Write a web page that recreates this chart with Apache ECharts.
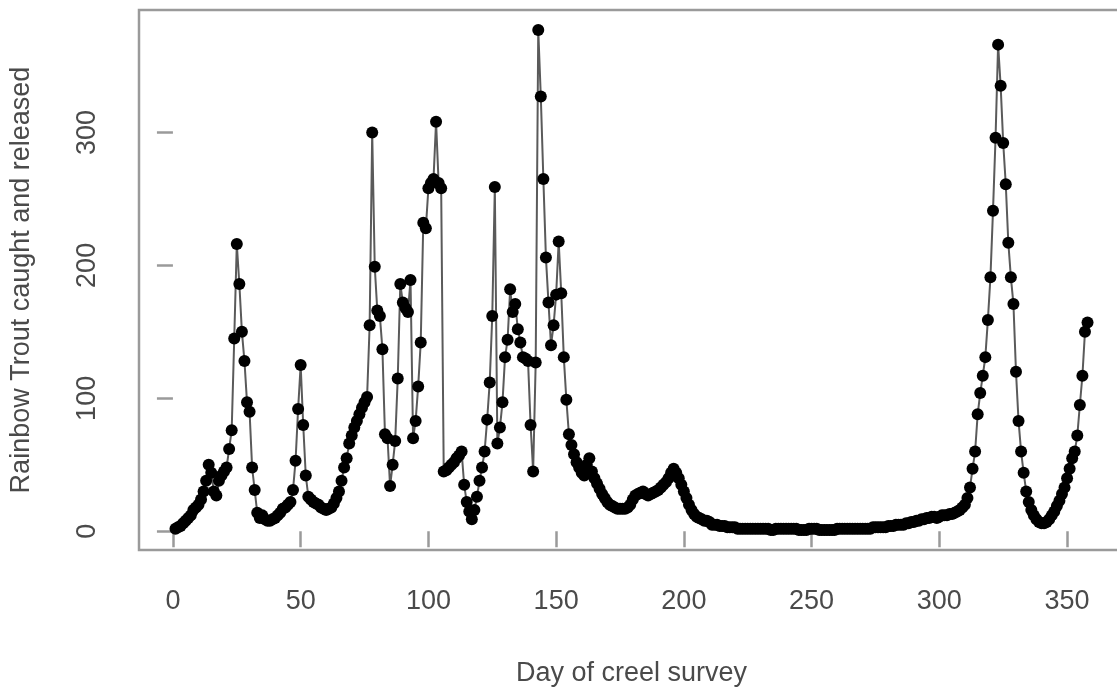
<!DOCTYPE html>
<html>
<head>
<meta charset="utf-8">
<title>Rainbow Trout caught and released</title>
<script src="https://cdn.jsdelivr.net/npm/echarts@6/dist/echarts.min.js"></script>
<style>
  html, body { margin: 0; padding: 0; background: #ffffff; }
  #chart { width: 1117px; height: 687px; }
</style>
</head>
<body>
<div id="chart"></div>
<script>
// Daily catch-and-release counts, day 1 onward (one value per survey day)
const caughtJanFeb = [
  2, 3, 4, 6, 8, 10, 12, 16, 18, 20,
  24, 30, 38, 50, 44, 30, 27, 38, 42, 45,
  48, 62, 76, 145, 216, 186, 150, 128, 97, 90,
  48, 31, 14, 10, 12, 9, 8, 8, 9, 10,
  12, 14, 17, 18, 20, 22, 31, 53, 92, 125,
  80, 42, 26, 24, 22, 21, 20, 18, 17, 16
];
const caughtMarApr = [
  17, 18, 21, 25, 30, 38, 48, 55, 66, 72,
  78, 83, 88, 93, 97, 101, 155, 300, 199, 166,
  162, 137, 73, 70, 34, 50, 68, 115, 186, 172,
  168, 165, 189, 70, 83, 109, 142, 232, 228, 258,
  262, 265, 308, 262, 258, 45, 46, 48, 50, 52,
  55, 57, 60, 35, 22, 15, 9, 16, 26, 38
];
const caughtMayJun = [
  48, 60, 84, 112, 162, 259, 66, 78, 97, 131,
  144, 182, 165, 171, 152, 142, 131, 130, 128, 80,
  45, 127, 377, 327, 265, 206, 172, 140, 155, 178,
  218, 179, 131, 99, 73, 65, 58, 52, 48, 44,
  42, 50, 55, 45, 40, 36, 32, 28, 25, 22,
  20, 19, 18, 17, 17, 17, 17, 18, 20, 24
];
const caughtJulAug = [
  27, 28, 29, 30, 28, 27, 28, 29, 30, 31,
  33, 35, 37, 40, 44, 47, 44, 40, 35, 30,
  25, 20, 16, 13, 11, 10, 9, 8, 8, 7,
  5, 5, 5, 4, 4, 4, 3, 3, 3, 3,
  2, 2, 2, 2, 2, 2, 2, 2, 2, 2,
  2, 2, 2, 1, 1, 2, 2, 2, 2, 2
];
const caughtSepOct = [
  2, 2, 2, 2, 1, 1, 1, 1, 2, 2,
  2, 2, 1, 1, 1, 1, 1, 1, 1, 2,
  2, 2, 2, 2, 2, 2, 2, 2, 2, 2,
  2, 2, 2, 3, 3, 3, 3, 3, 3, 4,
  4, 4, 5, 5, 5, 5, 6, 6, 7, 7,
  8, 8, 9, 9, 10, 10, 11, 11, 10, 11
];
const caughtNovDec = [
  12, 12, 12, 13, 13, 14, 15, 16, 18, 20,
  25, 33, 47, 60, 88, 104, 117, 131, 159, 191,
  241, 296, 366, 335, 292, 261, 217, 191, 171, 120,
  83, 60, 44, 30, 22, 16, 12, 9, 7, 6,
  6, 7, 9, 12, 15, 19, 23, 28, 33, 40,
  47, 55, 60, 72, 95, 117, 150, 157
];

const xTicks = [0, 50, 100, 150, 200, 250, 300, 350];
const yTicks = [0, 100, 200, 300];

const caught = [].concat(caughtJanFeb, caughtMarApr, caughtMayJun,
                         caughtJulAug, caughtSepOct, caughtNovDec);
const points = caught.map((v, i) => [i + 1, v]);

// R-style axis padding: 4% beyond the data range on each side
const nDays = caught.length;
const xPad = 0.04 * (nDays - 1);
const yMinData = Math.min.apply(null, caught);
const yMaxData = Math.max.apply(null, caught);
const yPad = 0.04 * (yMaxData - yMinData);

const textColor = '#4a4a4a';
const frameColor = '#9a9a9a';
const fontFamily = '"Liberation Sans", Arial, sans-serif';

const chart = echarts.init(document.getElementById('chart'), null, { renderer: 'canvas' });
chart.setOption({
  animation: false,
  backgroundColor: '#ffffff',
  grid: {
    left: 139,
    top: 10,
    width: 985,
    height: 540,
    show: true,
    borderColor: frameColor,
    borderWidth: 2.5,
    backgroundColor: 'transparent',
    outerBoundsMode: 'none',
    containLabel: false
  },
  xAxis: {
    type: 'value',
    min: 1 - xPad,
    max: nDays + xPad,
    name: 'Day of creel survey',
    nameLocation: 'middle',
    nameGap: 110,
    nameTextStyle: { color: textColor, fontSize: 27, fontFamily: fontFamily },
    axisLine: { show: false },
    splitLine: { show: false },
    axisTick: {
      show: true,
      customValues: xTicks,
      length: 16,
      lineStyle: { color: frameColor, width: 2.5 }
    },
    axisLabel: {
      customValues: xTicks,
      margin: 38,
      color: textColor,
      fontSize: 27,
      fontFamily: fontFamily
    }
  },
  yAxis: {
    type: 'value',
    min: yMinData - yPad,
    max: yMaxData + yPad,
    name: 'Rainbow Trout caught and released',
    nameLocation: 'middle',
    nameGap: 104,
    nameTextStyle: { color: textColor, fontSize: 27, fontFamily: fontFamily },
    axisLine: { show: false },
    splitLine: { show: false },
    axisTick: {
      show: true,
      customValues: yTicks,
      length: 16,
      lineStyle: { color: frameColor, width: 2.5 }
    },
    axisLabel: {
      customValues: yTicks,
      rotate: 90,
      margin: 38,
      color: textColor,
      fontSize: 27,
      fontFamily: fontFamily
    }
  },
  series: [{
    type: 'line',
    data: points,
    symbol: 'circle',
    symbolSize: 12,
    showSymbol: true,
    showAllSymbol: true,
    itemStyle: { color: '#000000', borderWidth: 0 },
    lineStyle: { color: '#5a5a5a', width: 2 },
    emphasis: { disabled: true }
  }]
});
</script>
</body>
</html>
